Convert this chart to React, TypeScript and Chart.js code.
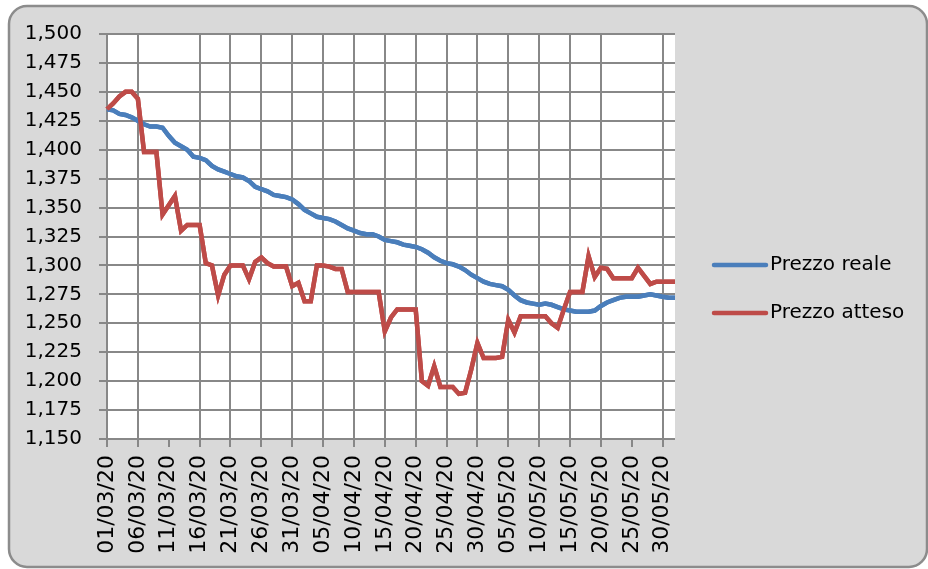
import React, { useEffect, useRef } from 'react';
import { Chart, registerables } from 'chart.js';

Chart.register(...registerables);

const dates = [
  '01/03/20','02/03/20','03/03/20','04/03/20','05/03/20','06/03/20','07/03/20','08/03/20','09/03/20','10/03/20',
  '11/03/20','12/03/20','13/03/20','14/03/20','15/03/20','16/03/20','17/03/20','18/03/20','19/03/20','20/03/20',
  '21/03/20','22/03/20','23/03/20','24/03/20','25/03/20','26/03/20','27/03/20','28/03/20','29/03/20','30/03/20',
  '31/03/20','01/04/20','02/04/20','03/04/20','04/04/20','05/04/20','06/04/20','07/04/20','08/04/20','09/04/20',
  '10/04/20','11/04/20','12/04/20','13/04/20','14/04/20','15/04/20','16/04/20','17/04/20','18/04/20','19/04/20',
  '20/04/20','21/04/20','22/04/20','23/04/20','24/04/20','25/04/20','26/04/20','27/04/20','28/04/20','29/04/20',
  '30/04/20','01/05/20','02/05/20','03/05/20','04/05/20','05/05/20','06/05/20','07/05/20','08/05/20','09/05/20',
  '10/05/20','11/05/20','12/05/20','13/05/20','14/05/20','15/05/20','16/05/20','17/05/20','18/05/20','19/05/20',
  '20/05/20','21/05/20','22/05/20','23/05/20','24/05/20','25/05/20','26/05/20','27/05/20','28/05/20','29/05/20',
  '30/05/20','31/05/20','01/06/20'
];

const prezzoReale = [
  1.435,1.434,1.431,1.430,1.428,1.425,1.422,1.420,1.420,1.419,
  1.412,1.406,1.403,1.400,1.394,1.393,1.391,1.386,1.383,1.381,
  1.379,1.377,1.376,1.373,1.368,1.366,1.364,1.361,1.360,1.359,
  1.357,1.353,1.348,1.345,1.342,1.341,1.340,1.338,1.335,1.332,
  1.330,1.328,1.327,1.327,1.325,1.322,1.321,1.320,1.318,1.317,
  1.316,1.314,1.311,1.307,1.304,1.302,1.301,1.299,1.296,1.292,
  1.289,1.286,1.284,1.283,1.282,1.279,1.274,1.270,1.268,1.267,
  1.266,1.267,1.266,1.264,1.262,1.261,1.260,1.260,1.260,1.261,
  1.265,1.268,1.270,1.272,1.273,1.273,1.273,1.274,1.275,1.274,
  1.273,1.272,1.272
];

const prezzoAtteso = [
  1.435,1.440,1.446,1.450,1.450,1.444,1.398,1.398,1.398,1.344,
  1.352,1.360,1.330,1.335,1.335,1.335,1.302,1.300,1.274,1.292,
  1.300,1.300,1.300,1.288,1.303,1.307,1.302,1.299,1.299,1.299,
  1.282,1.285,1.269,1.269,1.300,1.300,1.299,1.297,1.297,1.277,
  1.277,1.277,1.277,1.277,1.277,1.243,1.255,1.262,1.262,1.262,
  1.262,1.200,1.196,1.213,1.195,1.195,1.195,1.189,1.190,1.210,
  1.233,1.220,1.220,1.220,1.221,1.253,1.242,1.256,1.256,1.256,
  1.256,1.256,1.250,1.246,1.262,1.277,1.277,1.277,1.308,1.290,
  1.298,1.297,1.289,1.289,1.289,1.289,1.298,1.291,1.284,1.286,
  1.286,1.286,1.286
];

const seriesNames = ['Prezzo reale', 'Prezzo atteso'];
const seriesColors = ['#4a7ebb', '#be4b48'];

const yMin = 1.15;
const yMax = 1.5;
const yStep = 0.025;
const labelEvery = 5;
const lastLabelIndex = 90;
const hiddenGridIndexes = [10, 85];

const FONT = '"DejaVu Sans", Verdana, sans-serif';
const GRID = '#888888';

function isLabeled(i: number) {
  return i >= 0 && i % labelEvery === 0 && i <= lastLabelIndex;
}

function roundRect(ctx: CanvasRenderingContext2D, x: number, y: number, w: number, h: number, r: number) {
  ctx.beginPath();
  ctx.moveTo(x + r, y);
  ctx.lineTo(x + w - r, y);
  ctx.arcTo(x + w, y, x + w, y + r, r);
  ctx.lineTo(x + w, y + h - r);
  ctx.arcTo(x + w, y + h, x + w - r, y + h, r);
  ctx.lineTo(x + r, y + h);
  ctx.arcTo(x, y + h, x, y + h - r, r);
  ctx.lineTo(x, y + r);
  ctx.arcTo(x, y, x + r, y, r);
  ctx.closePath();
}

const panelPlugin = {
  id: 'panelBg',
  beforeDraw(chart: any) {
    const ctx: CanvasRenderingContext2D = chart.ctx;
    const a = chart.chartArea;
    ctx.save();
    ctx.fillStyle = '#ffffff';
    ctx.fillRect(0, 0, chart.width, chart.height);
    roundRect(ctx, 9, 6, 918, 561, 18);
    ctx.fillStyle = '#d9d9d9';
    ctx.fill();
    ctx.lineWidth = 2.5;
    ctx.strokeStyle = '#8c8c8c';
    ctx.stroke();
    ctx.fillStyle = '#ffffff';
    ctx.fillRect(a.left, a.top, a.right - a.left, a.bottom - a.top);
    ctx.restore();
  },
  afterDraw(chart: any) {
    const ctx: CanvasRenderingContext2D = chart.ctx;
    const a = chart.chartArea;
    const xs = chart.scales.x;

    // vertical gridlines and x tick marks at the labelled dates
    ctx.save();
    ctx.fillStyle = GRID;
    for (let i = 0; i <= lastLabelIndex; i += labelEvery) {
      const x = Math.round(Number(xs.getPixelForValue(i)));
      if (hiddenGridIndexes.indexOf(i) < 0) {
        ctx.fillRect(x - 1, a.top, 2, a.bottom - a.top + 8);
      } else {
        ctx.fillRect(x - 1, a.bottom, 2, 8);
      }
    }
    ctx.restore();

    // series back on top of the gridlines
    chart.data.datasets.forEach((_ds: any, i: number) => {
      const meta = chart.getDatasetMeta(i);
      if (meta && meta.controller) meta.controller.draw();
    });

    // legend
    ctx.save();
    ctx.font = `20px ${FONT}`;
    ctx.textBaseline = 'middle';
    ctx.textAlign = 'left';
    chart.data.datasets.forEach((ds: any, i: number) => {
      const y = 265 + i * 48;
      ctx.strokeStyle = ds.borderColor;
      ctx.lineWidth = 4.5;
      ctx.lineCap = 'round';
      ctx.beginPath();
      ctx.moveTo(714, y);
      ctx.lineTo(766, y);
      ctx.stroke();
      ctx.fillStyle = '#000000';
      ctx.fillText(ds.label, 770, y);
    });
    ctx.restore();
  },
};

export default function App() {
  const ref = useRef<HTMLCanvasElement | null>(null);

  useEffect(() => {
    if (!ref.current) return;
    const chart = new Chart(ref.current, {
      type: 'line',
      data: {
        labels: dates,
        datasets: [
          {
            label: seriesNames[0],
            data: prezzoReale,
            borderColor: seriesColors[0],
            backgroundColor: seriesColors[0],
            borderWidth: 4.5,
            pointRadius: 0,
            tension: 0,
          },
          {
            label: seriesNames[1],
            data: prezzoAtteso,
            borderColor: seriesColors[1],
            backgroundColor: seriesColors[1],
            borderWidth: 4.5,
            pointRadius: 0,
            tension: 0,
          },
        ],
      },
      options: {
        responsive: false,
        animation: false,
        layout: { padding: { left: 0, top: 34, right: 253, bottom: 0 } },
        plugins: {
          legend: { display: false },
          tooltip: { enabled: false },
          title: { display: false },
        },
        scales: {
          x: {
            type: 'category',
            offset: false,
            afterFit: (scale: any) => {
              scale.height = 130;
            },
            grid: { display: false, drawTicks: false },
            border: { display: false },
            ticks: {
              autoSkip: false,
              minRotation: 90,
              maxRotation: 90,
              padding: 16,
              color: '#000000',
              font: { family: FONT, size: 22 },
              callback: (_v: any, i: number) => (isLabeled(i) ? dates[i] : ''),
            },
          },
          y: {
            type: 'linear',
            min: yMin,
            max: yMax,
            afterFit: (scale: any) => {
              scale.width = 107;
            },
            grid: {
              color: GRID,
              lineWidth: 2,
              tickLength: 8,
            },
            border: { display: true, color: GRID, width: 2 },
            ticks: {
              stepSize: yStep,
              padding: 17,
              color: '#000000',
              font: { family: FONT, size: 20 },
              callback: (v: any) => Number(v).toFixed(3).replace('.', ','),
            },
          },
        },
      },
      plugins: [panelPlugin],
    } as any);
    return () => chart.destroy();
  }, []);

  return (
    <div style={{ position: 'fixed', left: 0, top: 0, width: 928, height: 569 }}>
      <canvas ref={ref} width={928} height={569} style={{ display: 'block' }} />
    </div>
  );
}
